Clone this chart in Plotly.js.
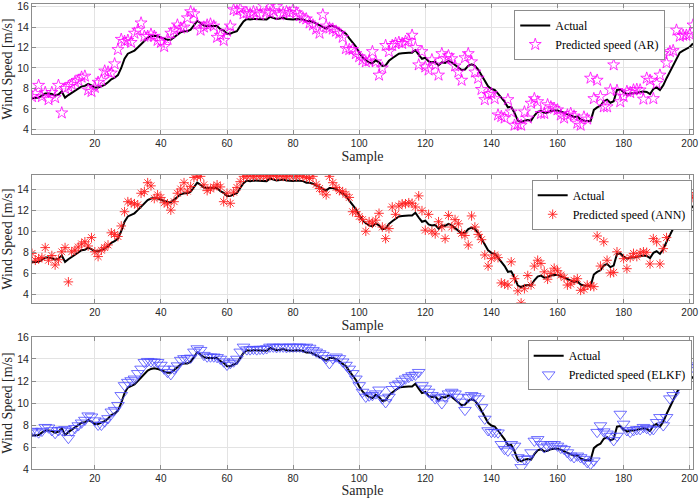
<!DOCTYPE html>
<html>
<head>
<meta charset="utf-8">
<script src="https://cdn.plot.ly/plotly-3.0.1.min.js"></script>
<style>html,body{margin:0;padding:0;background:#fff;}#chart{width:699px;height:498px;}</style>
</head>
<body>
<div id="chart"></div>
<script>
// ---- data ----
const actual = [
7.05,7.05,7.1,7.3,7.5,7.5,7.45,7.3,7.4,7.7,
7.1,7.35,7.55,7.75,7.95,8.2,8.25,8.45,8.3,8.1,
8.1,8.2,8.35,8.6,8.9,9.05,9.3,10.0,10.9,11.4,
11.55,11.7,12.0,12.3,12.6,12.95,13.1,13.15,13.1,13.0,
12.9,12.75,12.75,13.0,13.2,13.5,13.6,13.6,13.75,14.15,
14.6,14.4,14.15,14.1,14.1,14.15,14.1,13.8,13.65,13.35,
13.35,13.5,13.6,14.1,14.55,14.8,14.75,14.8,14.8,14.8,
14.8,14.75,15.0,14.9,14.8,14.85,14.9,14.8,14.75,14.75,
14.8,14.8,14.75,14.6,14.6,14.5,14.35,14.2,14.0,13.85,
14.1,14.1,14.0,13.8,13.6,13.35,12.9,12.5,12.1,11.5,
11.05,10.75,10.55,10.45,10.75,10.55,10.2,10.25,10.7,10.95,
11.15,11.4,11.45,11.5,11.5,11.5,11.75,11.3,10.9,11.0,
10.65,10.55,10.6,10.25,10.55,10.5,10.7,10.55,10.3,10.0,
9.8,9.85,10.2,10.35,10.2,9.85,9.3,8.7,8.2,7.95,
7.85,7.5,7.15,6.7,6.15,6.2,5.6,4.85,4.7,4.85,
4.9,4.85,5.35,5.7,5.8,5.6,5.65,5.8,5.85,5.85,
5.75,5.6,5.45,5.3,5.2,5.25,4.95,4.85,4.8,4.8,
5.9,6.15,6.3,6.75,6.9,6.6,6.75,7.85,7.9,7.6,
7.4,7.5,7.5,7.55,7.65,7.7,7.65,7.45,7.95,8.1,
7.85,8.3,9.0,9.6,10.3,10.9,11.5,11.7,11.85,12.05,
12.4];

const predAR = [
7.2,7.5,8.3,7.2,7.6,6.9,7.6,7.1,8.3,5.6,
8.0,8.2,8.4,8.65,8.8,9.1,9.2,7.85,7.7,8.1,
8.6,8.8,9.7,9.6,9.5,10.4,11.8,12.8,12.6,12.7,
12.5,13.4,13.7,14.4,13.1,13.1,13.3,13.1,12.7,12.5,
12.1,12.8,13.4,13.7,14.2,13.9,14.0,14.9,15.5,15.3,
14.3,13.7,14.0,14.2,14.3,14.1,13.0,13.2,12.7,13.6,
14.1,15.7,15.6,15.8,15.3,15.4,15.3,15.5,15.4,15.2,
16.1,15.5,15.4,15.6,16.0,15.2,15.4,15.5,15.4,15.7,
15.4,15.1,14.9,14.8,14.4,14.2,13.8,13.4,15.2,14.1,
13.9,13.8,13.6,13.4,13.0,11.9,11.8,11.8,11.4,11.1,
10.8,10.6,10.7,11.6,10.6,9.3,10.0,12.2,11.6,12.2,
12.4,12.5,12.4,12.6,12.7,13.2,12.0,10.3,11.6,10.1,
9.8,10.8,10.3,9.3,11.4,10.9,11.2,10.9,10.2,9.6,
8.8,11.0,11.4,10.6,9.6,9.0,7.9,6.9,7.4,7.5,
7.0,5.4,5.25,5.1,6.9,5.7,4.4,4.5,4.4,5.7,
5.1,6.55,7.0,6.7,5.55,5.55,6.4,6.2,6.05,5.9,
5.4,5.1,5.4,5.55,5.3,4.6,4.4,5.2,5.0,9.0,
7.0,8.8,7.2,6.2,6.2,7.85,10.3,7.8,6.7,7.2,
7.7,7.6,7.85,7.9,7.85,6.95,9.0,8.8,7.0,8.5,
9.3,11.4,10.5,11.6,11.7,13.7,13.1,13.2,13.2,13.3,
14.2];

const predANN = [
7.9,7.25,7.4,7.5,8.45,7.25,7.7,6.8,7.3,8.05,
8.45,5.2,8.05,8.2,8.5,8.8,9.0,8.6,9.4,8.05,
7.6,8.2,8.45,8.7,9.85,9.7,9.5,10.5,11.85,12.8,
12.7,12.6,12.5,13.6,13.75,14.6,14.3,13.1,13.45,13.2,
12.7,12.6,12.0,12.8,13.6,14.0,14.6,13.8,14.25,15.1,
15.2,15.2,14.4,13.85,14.0,14.2,14.4,14.2,12.8,13.6,
12.65,13.7,14.15,14.7,15.2,15.2,15.25,15.2,15.25,15.2,
15.25,15.2,15.25,15.3,15.2,15.25,15.2,15.2,15.25,15.2,
15.2,15.25,15.2,15.1,15.0,15.2,14.45,14.05,13.75,13.45,
15.2,14.6,14.15,13.85,13.75,13.5,13.2,11.85,11.85,11.4,
11.1,10.0,10.9,10.75,11.05,11.7,10.4,9.3,10.25,12.3,
11.6,12.4,12.6,12.6,12.7,12.65,12.3,13.35,11.95,10.1,
11.6,10.0,9.75,10.9,10.4,9.3,11.5,10.4,11.1,10.7,
9.8,9.6,8.7,11.45,10.4,9.7,9.2,7.75,6.7,7.4,
7.75,7.5,5.1,5.0,4.9,7.1,5.5,4.35,3.2,4.55,
5.8,4.9,6.7,7.25,6.95,6.15,5.45,6.0,6.5,6.25,
5.85,5.6,4.9,5.0,5.35,5.5,4.4,4.5,4.9,4.8,
4.75,9.55,6.7,9.0,7.25,6.05,6.1,8.05,10.7,7.4,
6.45,7.5,7.9,7.6,7.95,8.05,8.0,6.9,9.3,9.0,
6.9,8.35,9.4,11.7,11.7,10.9,11.5,12.2,12.95,13.4,
13.2];

const predELKF = [
7.45,7.4,7.3,7.45,7.8,7.75,7.5,7.25,7.5,7.55,
7.6,6.8,7.45,7.7,7.95,8.2,8.45,8.85,8.75,8.4,
8.0,8.0,8.3,8.6,9.2,9.35,9.8,10.7,11.6,11.9,
12.05,12.2,12.7,13.1,13.7,13.8,13.75,13.75,13.7,13.45,
13.1,12.8,12.6,13.1,13.4,13.9,14.05,14.05,14.1,14.65,
14.95,14.8,14.35,14.2,14.2,14.2,14.15,14.0,13.75,13.45,
13.6,13.75,14.0,14.65,15.1,14.85,14.85,14.9,14.85,14.9,
14.9,14.95,15.1,15.1,15.05,15.1,15.1,15.05,15.1,15.1,
15.1,15.1,15.05,15.1,15.0,14.8,14.65,14.5,14.35,14.05,
13.6,14.05,14.2,14.05,13.75,13.45,13.1,12.7,12.2,11.6,
11.0,10.55,10.65,10.7,10.85,11.2,10.4,10.05,10.55,11.25,
11.6,11.75,12.0,12.2,12.35,12.5,12.55,12.8,11.6,11.3,
11.0,10.7,10.4,10.55,9.95,10.55,10.85,11.0,10.85,10.55,
10.1,9.35,10.5,10.7,10.6,10.4,9.6,8.55,7.5,7.35,
7.35,7.3,6.25,5.8,5.65,6.25,6.1,5.05,4.15,4.9,
4.95,5.5,6.55,6.7,6.25,5.95,6.1,6.25,6.25,6.1,
5.9,5.8,5.5,5.2,5.05,5.2,5.05,4.9,4.6,4.45,
4.75,7.35,7.95,7.4,7.2,7.0,6.6,7.0,9.0,8.1,
7.5,7.35,7.5,7.6,7.6,7.8,7.7,7.55,7.6,8.25,
8.7,7.95,8.7,10.4,10.7,11.3,12.65,12.8,13.25,13.4,
13.25];

const sample = actual.map((_, k) => k + 1);
const xTicks = [20,40,60,80,100,120,140,160,180,200];
const yTicksTop = [4,6,8,10,12,14,16];
const yTicksMid = [4,6,8,10,12,14];
const yTicksBot = [4,6,8,10,12,14,16];
const labels = ["Actual","Predicted speed (AR)","Predicted speed (ANN)","Predicted speed (ELKF)"];

// ---- styling ----
const serif = "'Liberation Serif', 'Times New Roman', serif";
const sans = "'Liberation Sans', Arial, sans-serif";
const frame = "#8c8c8c";

function xAxis(anchor){
  return {
    anchor: anchor, domain:[0,1], range:[1,201], tickvals:xTicks,
    ticks:"inside", ticklen:4, tickcolor:frame, showline:true, linecolor:frame, linewidth:1,
    mirror:"ticks", showgrid:true, gridcolor:"#e3e3e3", zeroline:false,
    tickfont:{family:sans, size:10, color:"#262626"},
    title:{text:"Sample", font:{family:serif, size:14, color:"#262626"}, standoff:3}
  };
}
function yAxis(anchor, dom, rng, tv){
  return {
    anchor: anchor, domain:dom, range:rng, tickvals:tv,
    ticks:"inside", ticklen:4, tickcolor:frame, showline:true, linecolor:frame, linewidth:1,
    mirror:"ticks", showgrid:true, gridcolor:"#e3e3e3", zeroline:false,
    tickfont:{family:sans, size:10.5, color:"#262626"},
    title:{text:"Wind Speed [m/s]", font:{family:serif, size:14, color:"#262626"}, standoff:3}
  };
}

const lineStyle = {color:"#000000", width:2};
const traces = [
  {x:sample, y:actual, mode:"lines", line:lineStyle, name:labels[0], xaxis:"x", yaxis:"y", legend:"legend"},
  {x:sample, y:predAR, mode:"markers", name:labels[1], xaxis:"x", yaxis:"y", legend:"legend",
   marker:{symbol:"star-open", size:9, color:"#ff00ff", line:{color:"#ff00ff", width:0.8}}},
  {x:sample, y:actual, mode:"lines", line:lineStyle, name:labels[0], xaxis:"x2", yaxis:"y2", legend:"legend2"},
  {x:sample, y:predANN, mode:"markers", name:labels[2], xaxis:"x2", yaxis:"y2", legend:"legend2",
   marker:{symbol:"asterisk-open", size:8, color:"#ff2020", line:{color:"#ff2020", width:0.9}}},
  {x:sample, y:actual, mode:"lines", line:lineStyle, name:labels[0], xaxis:"x3", yaxis:"y3", legend:"legend3"},
  {x:sample, y:predELKF, mode:"markers", name:labels[3], xaxis:"x3", yaxis:"y3", legend:"legend3",
   marker:{symbol:"triangle-down-open", size:11, color:"#4a4aff", line:{color:"#4a4aff", width:0.8}}}
];

function leg(x, y){
  return {x:x, y:y, xanchor:"right", yanchor:"top", bgcolor:"#ffffff", bordercolor:"#8c8c8c", borderwidth:1,
    font:{family:serif, size:12, color:"#000000"}, itemwidth:30, tracegroupgap:0};
}

const layout = {
  width:699, height:498,
  margin:{l:32, r:6, t:0, b:0},
  font:{family:serif, size:12, color:"#000000"},
  paper_bgcolor:"#ffffff", plot_bgcolor:"#ffffff",
  showlegend:true,
  xaxis: xAxis("y"),
  yaxis: yAxis("x", [0.7309,0.9920], [3.54,16.26], yTicksTop),
  xaxis2: xAxis("y2"),
  yaxis2: yAxis("x2", [0.3916,0.6486], [3.2,15.33], yTicksMid),
  xaxis3: xAxis("y3"),
  yaxis3: yAxis("x3", [0.0582,0.3233], [4,16], yTicksBot),
  legend: leg(0.958, 0.980),
  legend2: leg(0.998, 0.639),
  legend3: leg(0.998, 0.317)
};

Plotly.newPlot("chart", traces, layout, {displayModeBar:false, staticPlot:true});
</script>
</body>
</html>
